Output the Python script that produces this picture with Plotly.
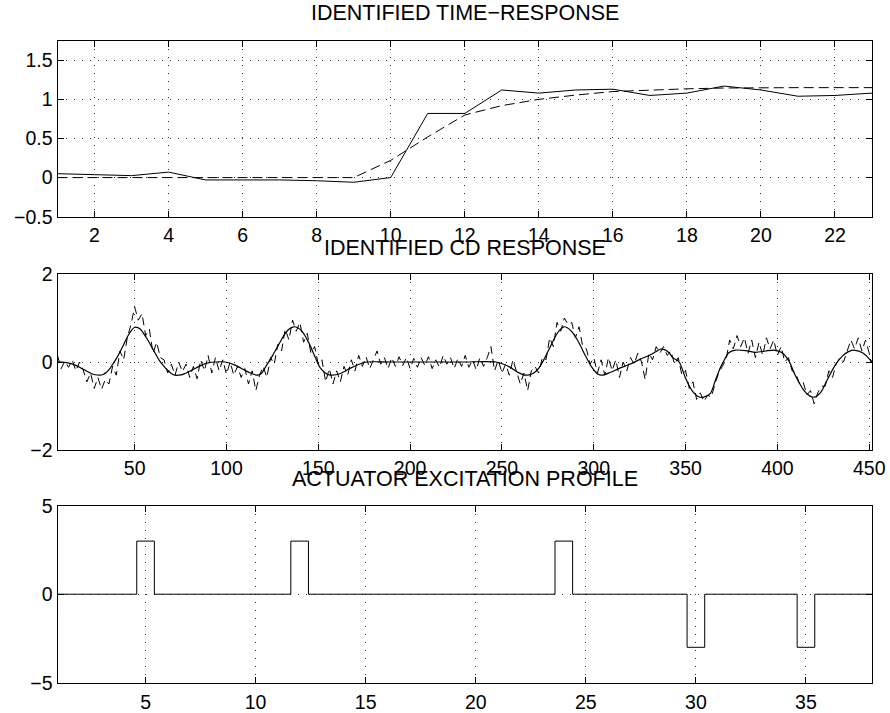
import plotly.graph_objects as go

# ---------------- data ----------------
# Top panel: identified time response (solid) and model (dashed)
time_k = list(range(1, 24))
time_identified = [0.05, 0.04, 0.025, 0.07, -0.03, -0.03, -0.03, -0.04, -0.06, 0.0,
                   0.82, 0.82, 1.12, 1.08, 1.12, 1.13, 1.05, 1.08, 1.17, 1.12,
                   1.04, 1.05, 1.08]
time_model = [0.0, 0.0, 0.0, 0.0, 0.0, 0.0, 0.0, 0.0, 0.0, 0.22,
              0.52, 0.80, 0.92, 1.00, 1.055, 1.10, 1.12, 1.135, 1.145, 1.15,
              1.15, 1.15, 1.15]

# Middle panel: identified CD response (smooth fit, solid) – read control points
cd_fit_x = [8, 10, 13.5, 17, 20.9, 24, 26.3, 28.5, 30.9, 32.5, 34.5, 36.5, 38.1, 40.9, 43.6, 46.3,
            48.3, 50, 51.7, 53.3, 56.4, 60, 63.7, 66, 68.2, 70, 71.9, 74, 76.4, 81, 86.5, 90,
            93.7, 99.2, 104.7, 110.1, 113, 115.6, 117, 119, 121.9, 125, 128.5, 132.2, 134.5,
            136.6, 138.8, 141.1, 144.8, 148.4, 151.2, 154.8, 157.5, 162.1, 167.5, 173, 176.6,
            190, 210, 230, 246.8, 254.1, 258.5, 262.9, 266.9, 269.6, 272.4, 276, 279.6, 281.8,
            283.6, 285.6, 287.8, 291.5, 295.1, 298.8, 302.4, 304.6, 308.8, 314.2, 319.7,
            325.2, 330.6, 334, 336.1, 338.5, 341, 343, 346.5, 349.8, 353.5, 357.1, 359.8,
            363.4, 366.2, 368.9, 370.8, 373.5, 377.1, 382.6, 388.1, 393.5, 398.1, 402.6,
            406.3, 409.9, 414.5, 417.5, 420, 423.6, 427.3, 431.8, 435.5, 438.5, 441, 446.4, 451.5]
cd_fit_y = [0.0, 0.0, -0.02, -0.06, -0.14, -0.21, -0.26, -0.29, -0.30, -0.29, -0.24, -0.15, -0.05,
            0.14, 0.36, 0.59, 0.72, 0.79, 0.78, 0.74, 0.55, 0.29, 0.02, -0.10, -0.20, -0.26,
            -0.30, -0.30, -0.28, -0.19, -0.07, -0.02, 0.0, 0.0, -0.07, -0.19, -0.25, -0.29,
            -0.30, -0.26, -0.07, 0.14, 0.40, 0.66, 0.76, 0.80, 0.78, 0.70, 0.44, 0.10, -0.14,
            -0.28, -0.30, -0.26, -0.14, -0.04, 0.0, 0.0, 0.0, 0.0, 0.0, -0.11, -0.23, -0.30,
            -0.26, -0.165, 0.02, 0.32, 0.62, 0.74, 0.80, 0.78, 0.70, 0.47, 0.17, -0.11, -0.28,
            -0.30, -0.24, -0.14, -0.05, 0.06, 0.16, 0.24, 0.29, 0.28, 0.21, 0.10, 0.0, -0.35,
            -0.65, -0.79, -0.80, -0.72, -0.42, -0.13, 0.02, 0.21, 0.27, 0.26, 0.22, 0.25, 0.27,
            0.21, 0.02, -0.32, -0.65, -0.77, -0.80, -0.69, -0.39, -0.05, 0.14, 0.23, 0.27,
            0.21, 0.0]

# Middle panel: measured CD response (noisy, dashed)
cd_meas_x = list(range(8, 451, 2)) + [451]
cd_meas_y = [0.15, -0.15, 0.02, -0.12, 0.05, -0.2, 0.0, -0.18, -0.45, -0.25,
             -0.6, -0.35, -0.62, -0.4, -0.5, -0.1, -0.3, 0.25, 0.05, 0.55,
             0.85, 1.25, 0.95, 1.1, 0.6, 0.75, 0.2, 0.45, 0.1, 0.05,
             -0.25, -0.05, -0.3, 0.0, -0.22, -0.05, -0.35, -0.1, -0.38, 0.05,
             -0.2, 0.15, -0.25, 0.1, -0.2, 0.05, -0.28, 0.0, -0.3, -0.1,
             -0.35, -0.15, -0.5, -0.2, -0.65, -0.3, -0.1, -0.35, 0.1, -0.05,
             0.4, 0.25, 0.75, 0.5, 0.95, 0.7, 0.9, 0.45, 0.65, 0.2,
             0.35, -0.05, 0.05, -0.45, -0.15, -0.5, -0.2, -0.45, -0.1, -0.3,
             0.05, -0.2, 0.15, -0.1, 0.12, -0.15, 0.05, 0.25, -0.05, 0.1,
             -0.15, 0.1, -0.1, 0.12, -0.08, 0.1, -0.15, 0.08, -0.12, 0.1,
             -0.08, 0.12, -0.15, 0.05, -0.12, 0.15, -0.05, 0.1, -0.15, 0.08,
             -0.1, 0.15, -0.12, 0.05, -0.18, 0.1, -0.1, 0.1, 0.35, -0.2,
             0.05, -0.25, -0.05, -0.3, 0.05, -0.2, -0.5, -0.25, -0.65, -0.2,
             -0.1, -0.25, 0.1, 0.05, 0.55, 0.35, 0.9, 0.7, 1.0, 0.85,
             0.9, 0.55, 0.8, 0.35, 0.3, -0.05, 0.1, -0.25, 0.05, -0.3,
             0.1, -0.2, 0.05, -0.35, 0.0, -0.2, 0.1, -0.05, 0.2, 0.0,
             -0.4, 0.2, 0.05, 0.35, 0.2, 0.35, 0.15, 0.25, -0.05, 0.1,
             -0.3, -0.2, -0.6, -0.45, -0.85, -0.7, -0.9, -0.75, -0.8, -0.5,
             -0.25, -0.1, 0.05, 0.5, 0.3, 0.6, 0.35, 0.55, 0.2, 0.5,
             0.1, 0.45, 0.15, 0.55, 0.3, 0.5, 0.15, 0.35, 0.0, 0.1,
             -0.2, -0.25, -0.5, -0.45, -0.75, -0.65, -0.95, -0.7, -0.55, -0.55,
             -0.2, -0.35, -0.05, 0.1, 0.0, 0.25, 0.5, 0.3, 0.55, 0.25,
             0.5, 0.2, 0.0]

# Bottom panel: actuator excitation profile (step breakpoints)
act_x = [1, 4.6, 5.4, 11.6, 12.4, 23.6, 24.4, 29.6, 30.4, 34.6, 35.4, 38]
act_y = [0, 3, 0, 3, 0, 3, 0, -3, 0, -3, 0, 0]

titles = ["IDENTIFIED TIME\u2212RESPONSE", "IDENTIFIED CD RESPONSE", "ACTUATOR EXCITATION PROFILE"]
top_xticks = list(range(2, 23, 2))
top_yticks = [-0.5, 0, 0.5, 1, 1.5]
mid_xticks = list(range(50, 451, 50))
mid_yticks = [-2, 0, 2]
bot_xticks = list(range(5, 36, 5))
bot_yticks = [-5, 0, 5]

# ---------------- figure ----------------
W, H = 890, 713
FONT = "Liberation Sans, Arial, Helvetica, sans-serif"
x0, x1 = 57.5 / W, 872 / W
panels = [(40.7, 216.7), (274, 450), (505.7, 682.7)]
doms = [[1 - b / H, 1 - t / H] for t, b in panels]

fig = go.Figure()
fig.add_trace(go.Scatter(x=time_k, y=time_identified, mode="lines",
                         line=dict(color="black", width=1), xaxis="x", yaxis="y"))
fig.add_trace(go.Scatter(x=time_k, y=time_model, mode="lines",
                         line=dict(color="black", width=1, dash="10px,5px"), xaxis="x", yaxis="y"))
fig.add_trace(go.Scatter(x=cd_meas_x, y=cd_meas_y, mode="lines",
                         line=dict(color="black", width=1, dash="8px,5px"), xaxis="x2", yaxis="y2"))
fig.add_trace(go.Scatter(x=cd_fit_x, y=cd_fit_y, mode="lines",
                         line=dict(color="black", width=1.2, shape="spline", smoothing=0.8),
                         xaxis="x2", yaxis="y2"))
fig.add_trace(go.Scatter(x=act_x, y=act_y, mode="lines",
                         line=dict(color="black", width=1, shape="hv"), xaxis="x3", yaxis="y3"))


def ax(rng, ticks, dom, anchor, standoff):
    return dict(range=rng, tickvals=ticks, domain=dom, anchor=anchor, automargin=False,
                showline=True, linecolor="black", ticklabelstandoff=standoff,
                linewidth=1, mirror="ticks", ticks="inside", ticklen=6, tickcolor="black",
                showgrid=True, gridcolor="#333333", gridwidth=1, griddash="1px,7px",
                zeroline=False, tickfont=dict(family=FONT, size=19.5, color="black"),
                fixedrange=True)


fig.update_layout(
    template="none",
    width=W, height=H, autosize=False,
    margin=dict(l=0, r=0, t=0, b=0, pad=0, autoexpand=False),
    paper_bgcolor="white", plot_bgcolor="white", showlegend=False,
    xaxis=ax([1, 23], top_xticks, [x0, x1], "y", 1),
    yaxis=ax([-0.5, 1.75], top_yticks, doms[0], "x", 0),
    xaxis2=ax([8, 451.5], mid_xticks, [x0, x1], "y2", 1),
    yaxis2=ax([-2, 2], mid_yticks, doms[1], "x2", 0),
    xaxis3=ax([1, 38], bot_xticks, [x0, x1], "y3", 2),
    yaxis3=ax([-5, 5], bot_yticks, doms[2], "x3", 0),
)

title_y = [13, 247.6, 479]
for t, ty in zip(titles, title_y):
    fig.add_annotation(text=t, x=(x0 + x1) / 2, y=1 - ty / H, xref="paper", yref="paper",
                       showarrow=False, xanchor="center", yanchor="middle",
                       font=dict(family=FONT, size=21.5, color="black"))

fig.write_html("out.html", config={"displayModeBar": False},
               post_script="document.body.style.margin='0px';document.body.style.overflow='hidden';")
